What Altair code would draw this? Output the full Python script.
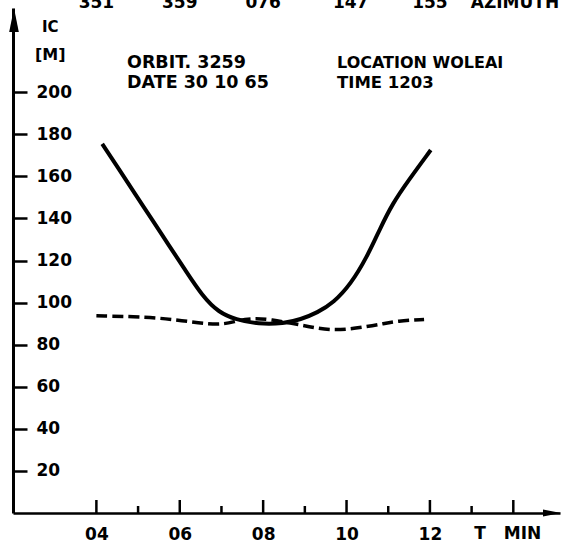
import altair as alt
import pandas as pd

# ---- data ----
solid_t = [4.14, 4.54, 4.94, 5.34, 5.74, 6.14, 6.54, 6.94, 7.34, 7.89, 8.49, 8.90,
           9.30, 9.69, 10.10, 10.50, 10.80, 11.10, 11.50, 12.02]
solid_ic = [175.4, 163.4, 151.3, 139.3, 127.2, 115.2, 103.2, 95.2, 92.0, 89.7, 90.0, 92.0,
            95.2, 100.0, 108.7, 122.0, 135.0, 147.0, 158.5, 172.5]

dash_t = [4.0, 5.22, 6.02, 6.98, 7.38, 7.77, 8.18, 8.82, 9.22, 9.62, 10.02, 10.42,
          10.82, 11.22, 11.86]
dash_ic = [93.7, 93.2, 91.6, 88.9, 91.6, 92.5, 92.0, 89.7, 88.1, 87.0, 87.3, 88.4,
           89.7, 91.3, 92.0]

x_label_values = [4, 6, 8, 10, 12]
major_ticks = [4, 6, 8, 10, 12, 14]
minor_ticks = [5, 7, 9, 11, 13]
y_tick_values = [20, 40, 60, 80, 100, 120, 140, 160, 180, 200]

azimuth_t = [4, 6, 8, 10.1, 12]
azimuth_labels = ["351", "359", "076", "147", "155"]
azimuth_title_t = [12.98]
azimuth_title = ["AZIMUTH"]

unit_t = [13.2, 14.22]
unit_labels = ["T", "MIN"]

orbit_text = ["ORBIT. 3259"]
date_text = ["DATE 30 10 65"]
location_text = ["LOCATION WOLEAI"]
time_text = ["TIME 1203"]

W, H = 547, 505
FONT = "DejaVu Sans"

xs = alt.Scale(domain=[2, 15.12], nice=False, zero=False)
ys = alt.Scale(domain=[0, 240], nice=False, zero=True)

solid_df = pd.DataFrame({"t": solid_t, "ic": solid_ic})
dash_df = pd.DataFrame({"t": dash_t, "ic": dash_ic})

x_axis = alt.Axis(values=x_label_values, format="02d", ticks=False, grid=False,
                  domainColor="black", domainWidth=2.5, labelColor="black",
                  labelFont=FONT, labelFontWeight="bold", labelFontSize=17,
                  labelPadding=13, title=None)
y_axis = alt.Axis(orient="right", offset=-W, values=y_tick_values, grid=False,
                  tickSize=14, tickWidth=2.5, tickColor="black",
                  domainColor="black", domainWidth=3, labelColor="black",
                  labelFont=FONT, labelFontWeight="bold", labelFontSize=17,
                  labelPadding=9, title=None)

solid = alt.Chart(solid_df).mark_line(color="black", strokeWidth=4,
                                      interpolate="basis").encode(
    x=alt.X("t:Q", scale=xs, axis=x_axis),
    y=alt.Y("ic:Q", scale=ys, axis=y_axis),
)

dashed = alt.Chart(dash_df).mark_line(color="black", strokeWidth=3.5,
                                      strokeDash=[11, 5],
                                      interpolate="basis").encode(
    x=alt.X("t:Q", scale=xs), y=alt.Y("ic:Q", scale=ys))

major = alt.Chart(pd.DataFrame({"t": major_ticks})).mark_rule(
    color="black", strokeWidth=2.5).encode(
    x=alt.X("t:Q", scale=xs), y=alt.value(H), y2=alt.value(H - 13))
minor = alt.Chart(pd.DataFrame({"t": minor_ticks})).mark_rule(
    color="black", strokeWidth=2.5).encode(
    x=alt.X("t:Q", scale=xs), y=alt.value(H), y2=alt.value(H - 7))

y_arrow = alt.Chart(pd.DataFrame({"a": [0]})).mark_point(
    shape="M0,-1L0.4,1L-0.4,1Z", filled=True, color="black", opacity=1, size=576
).encode(x=alt.value(1), y=alt.value(12))
x_arrow = alt.Chart(pd.DataFrame({"a": [0]})).mark_point(
    shape="M1,0L-1,-0.4L-1,0.4Z", filled=True, color="black", opacity=1, size=324
).encode(x=alt.value(W - 8), y=alt.value(H))


def txt(**kw):
    base = dict(font=FONT, fontWeight="bold", color="black")
    base.update(kw)
    return base


def label(texts, x, y, size, align="left", baseline="middle"):
    return alt.Chart(pd.DataFrame({"lab": texts})).mark_text(
        **txt(fontSize=size, align=align, baseline=baseline)).encode(
        x=alt.value(x), y=alt.value(y), text="lab:N")


az = alt.Chart(pd.DataFrame({"t": azimuth_t, "lab": azimuth_labels})).mark_text(
    **txt(fontSize=17, align="center", baseline="alphabetic")).encode(
    x=alt.X("t:Q", scale=xs), y=alt.value(0), text="lab:N")
az_title = alt.Chart(pd.DataFrame({"t": azimuth_title_t, "lab": azimuth_title})).mark_text(
    **txt(fontSize=17, align="left", baseline="alphabetic")).encode(
    x=alt.X("t:Q", scale=xs), y=alt.value(0), text="lab:N")

units = alt.Chart(pd.DataFrame({"t": unit_t, "lab": unit_labels})).mark_text(
    **txt(fontSize=17, align="center", baseline="alphabetic")).encode(
    x=alt.X("t:Q", scale=xs), y=alt.value(H + 26), text="lab:N")

ic_lab = label(["IC"], 29, 19, 15)
m_lab = label(["[M]"], 22, 47, 16)
orbit_lab = label(orbit_text, 114, 55, 17.5)
date_lab = label(date_text, 114, 75, 17.5)
loc_lab = label(location_text, 324, 55, 16)
time_lab = label(time_text, 324, 75, 16.5)

chart = alt.layer(
    solid, dashed, major, minor, y_arrow, x_arrow, az, az_title, units,
    ic_lab, m_lab, orbit_lab, date_lab, loc_lab, time_lab
).properties(
    width=W, height=H,
    autosize=alt.AutoSizeParams(type="none"),
    padding={"left": 13, "top": 8, "right": 5, "bottom": 37},
    background="white",
).configure_view(stroke=None)

chart.save("out.html", embed_options={"renderer": "svg", "actions": False})
